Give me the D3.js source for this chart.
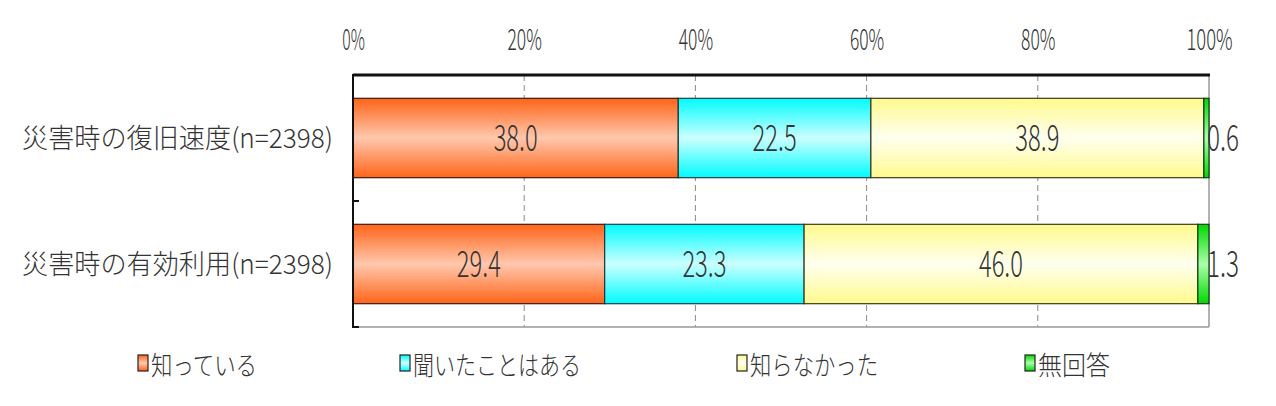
<!DOCTYPE html>
<html><head><meta charset="utf-8">
<script src="https://cdn.jsdelivr.net/npm/d3@7"></script>
<style>
html,body{margin:0;padding:0;background:#fff;}
svg{display:block;}
</style></head>
<body>
<svg id="chart" width="1276" height="406"></svg>
<script>
const categories = ["災害時の復旧速度(n=2398)", "災害時の有効利用(n=2398)"];
const seriesNames = ["知っている", "聞いたことはある", "知らなかった", "無回答"];
const knowValues = [38.0, 29.4];
const heardValues = [22.5, 23.3];
const unknownValues = [38.9, 46.0];
const noAnswerValues = [0.6, 1.3];
const tickValues = [0, 20, 40, 60, 80, 100];

(function(){
const seriesValues = [knowValues, heardValues, unknownValues, noAnswerValues];
const colors = [
  {edge:"#ff6418", mid:"#ffc8ae", stroke:"#3a1a10"},
  {edge:"#00fbff", mid:"#ccffff", stroke:"#1a3a3a"},
  {edge:"#fffa8c", mid:"#fffff0", stroke:"#3a3a20"},
  {edge:"#00d800", mid:"#aaffaa", stroke:"#103a10"}
];

const svg = d3.select("#chart");
const pL = 353, pR = 1209, pT = 75, pB = 327;
const x = d3.scaleLinear().domain([0,100]).range([pL,pR]);
const y = d3.scaleBand().domain(categories).range([pT,pB]).paddingInner(0.37).paddingOuter(0.185);

const defs = svg.append("defs");
colors.forEach((c,i)=>{
  const g = defs.append("linearGradient").attr("id","g"+i).attr("x1",0).attr("y1",0).attr("x2",0).attr("y2",1);
  g.append("stop").attr("offset","0%").attr("stop-color",c.edge);
  g.append("stop").attr("offset","50%").attr("stop-color",c.mid);
  g.append("stop").attr("offset","100%").attr("stop-color",c.edge);
});

svg.append("g").selectAll("line").data(tickValues.filter(t=>t>0&&t<100)).join("line")
  .attr("x1",d=>x(d)).attr("x2",d=>x(d)).attr("y1",pT).attr("y2",pB)
  .attr("stroke","#888").attr("stroke-width",1).attr("stroke-dasharray","6,4");

svg.append("line").attr("x1",pR).attr("x2",pR).attr("y1",pT).attr("y2",pB).attr("stroke","#999").attr("stroke-width",1.5);
svg.append("line").attr("x1",pL).attr("x2",pR).attr("y1",pB).attr("y2",pB).attr("stroke","#999").attr("stroke-width",1.5);
svg.append("line").attr("x1",pL).attr("x2",pR+1).attr("y1",pT).attr("y2",pT).attr("stroke","#111").attr("stroke-width",3);

const stacked = categories.map((cat,ci)=>{
  let acc = 0;
  return seriesValues.map((vals,si)=>{
    const v = vals[ci]; const s = {cat, si, v, x0:acc, x1:acc+v}; acc += v; return s;
  });
}).flat();

svg.append("g").selectAll("rect").data(stacked).join("rect")
  .attr("x",d=>x(d.x0)).attr("width",d=>Math.min(x(d.x1),pR)-x(d.x0))
  .attr("y",d=>y(d.cat)).attr("height",y.bandwidth())
  .attr("fill",d=>"url(#g"+d.si+")").attr("stroke",d=>colors[d.si].stroke).attr("stroke-width",1.2);

svg.append("line").attr("x1",pL).attr("x2",pL).attr("y1",pT-1).attr("y2",pB+1).attr("stroke","#111").attr("stroke-width",2);
const step = y.step();
[pT+step, pB].forEach(t=>{
  svg.append("line").attr("x1",pL).attr("x2",pL+6).attr("y1",t).attr("y2",t).attr("stroke","#111").attr("stroke-width",2);
});

const numFont = "'Noto Sans CJK JP', 'Liberation Sans', sans-serif";
svg.append("g").selectAll("text").data(stacked).join("text")
  .attr("x",d=> d.v < 3 ? x(d.x1)+14 : x((d.x0+d.x1)/2))
  .attr("y",d=>y(d.cat)+y.bandwidth()/2+13)
  .attr("text-anchor","middle")
  .attr("font-family",numFont).attr("font-weight",300).attr("font-size",36).attr("fill","#333")
  .attr("textLength",d=>{const s=d.v.toFixed(1); return (s.length-1)*12+8;})
  .attr("lengthAdjust","spacingAndGlyphs")
  .text(d=>d.v.toFixed(1));

const axis = d3.axisTop(x).tickValues(tickValues).tickSize(0).tickFormat(d=>d+"%");
const ax = svg.append("g").attr("transform","translate(0,50)").call(axis);
ax.select(".domain").remove();
ax.selectAll("text").attr("y",0).attr("dy",0)
  .attr("font-family",numFont).attr("font-weight",300).attr("font-size",29).attr("fill","#333")
  .attr("textLength",function(d){return (d+"%").length*11.8-1;})
  .attr("lengthAdjust","spacingAndGlyphs");

const cjk = "'Noto Sans CJK JP', sans-serif";
svg.append("g").selectAll("text").data(categories).join("text")
  .attr("x",333).attr("y",d=>y(d)+y.bandwidth()/2-2)
  .attr("text-anchor","end").attr("dominant-baseline","central")
  .attr("font-family",cjk).attr("font-weight",300).attr("font-size",27).attr("fill","#333")
  .attr("textLength",311).attr("lengthAdjust","spacingAndGlyphs")
  .text(d=>d);

const legendX = [138, 400, 737, 1025];
const legendW = [106, 168, 128, 72];
const lg = svg.append("g").selectAll("g").data(seriesNames).join("g")
  .attr("transform",(d,i)=>`translate(${legendX[i]},363)`);
lg.append("rect").attr("x",0).attr("y",-8).attr("width",10).attr("height",16)
  .attr("fill",(d,i)=>"url(#g"+i+")").attr("stroke","#222").attr("stroke-width",1.2);
lg.append("text").attr("x",13).attr("y",0).attr("dominant-baseline","central")
  .attr("font-family",cjk).attr("font-weight",300).attr("font-size",26).attr("fill","#333")
  .attr("textLength",(d,i)=>legendW[i]).attr("lengthAdjust","spacingAndGlyphs")
  .text(d=>d);
})();
</script>
</body></html>
